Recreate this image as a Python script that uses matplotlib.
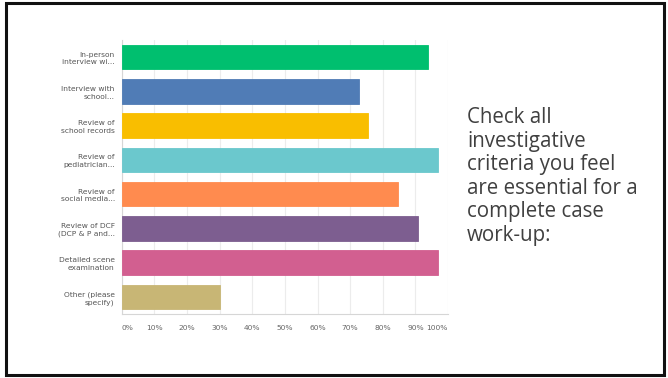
import matplotlib
matplotlib.use("Agg")
import matplotlib.pyplot as plt
import matplotlib.patches as mpatches
import numpy as np

# survey answers (top to bottom) and share of respondents, in %
labels = [
    "In-person\ninterview wi...",
    "Interview with\nschool...",
    "Review of\nschool records",
    "Review of\npediatrician...",
    "Review of\nsocial media...",
    "Review of DCF\n(DCP & P and...",
    "Detailed scene\nexamination",
    "Other (please\nspecify)",
]
values = [93.8, 72.6, 75.6, 96.9, 84.8, 90.9, 97.0, 30.1]
colors = ["#00bf6f", "#507cb6", "#f9be00", "#6bc8cd",
          "#ff8b4f", "#7d5e90", "#d25f90", "#c8b675"]
xticks = [0, 10, 20, 30, 40, 50, 60, 70, 80, 90, 100]
question = ("Check all\ninvestigative\ncriteria you feel\n"
            "are essential for a\ncomplete case\nwork-up:")

fig = plt.figure(figsize=(6.68, 3.78), dpi=100)
ax = fig.add_axes([0.1822, 0.1693, 0.4885, 0.7249])

y = np.arange(len(labels))
ax.barh(y, values, height=0.71, color=colors, edgecolor=colors, linewidth=0.6, zorder=3)
ax.set_ylim(len(labels) - 0.5, -0.5)
ax.set_xlim(0, 100)

ax.set_xticks(xticks)
ax.set_xticklabels([f"{t}%" for t in xticks], fontsize=5.4, color="#666666")
ticklbls = ax.get_xticklabels()
ticklbls[0].set_ha("left")
ticklbls[-1].set_ha("right")
ax.set_yticks(y)
ax.set_yticklabels(labels, fontsize=5.4, color="#555555", linespacing=1.35)
ax.tick_params(axis="both", length=0)
ax.tick_params(axis="x", pad=8)
ax.tick_params(axis="y", pad=5)

ax.grid(axis="x", color="#ececec", linewidth=0.8, zorder=0)
for s in ["top", "right"]:
    ax.spines[s].set_visible(False)
for s in ["left", "bottom"]:
    ax.spines[s].set_color("#d6d6d6")
    ax.spines[s].set_linewidth(0.8)

fig.text(467 / 668, 1 - 107 / 378, question, fontsize=14.8, color="#404040",
         family="Open Sans", va="top", ha="left", linespacing=1.16)

# slide border
fig.patches.append(mpatches.Rectangle((5.5 / 668, 3 / 378), 658 / 668, 372 / 378,
                                      transform=fig.transFigure, fill=False,
                                      edgecolor="#111111", linewidth=2.2))

fig.savefig("out.png", dpi=100)
